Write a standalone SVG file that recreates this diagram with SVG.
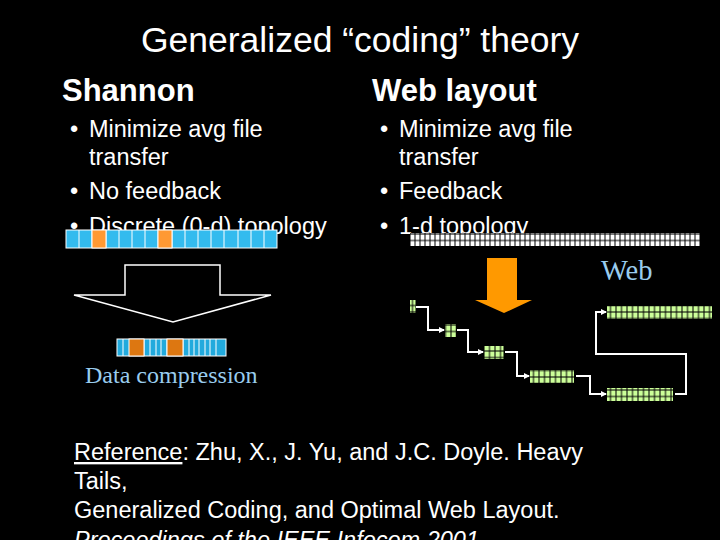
<svg xmlns="http://www.w3.org/2000/svg" width="720" height="540" viewBox="0 0 720 540">
<style>
text{font-family:"Liberation Sans",Arial,sans-serif;fill:#fff}
.b{font-size:23.5px}
.s{font-family:"Liberation Serif","Times New Roman",serif;fill:#99ccee}
.c{fill:#33bbee;stroke:#fff;stroke-width:1}
.o{fill:#ff9933;stroke:#fff;stroke-width:1}
.oc{fill:#dd7711;stroke:#fff;stroke-width:1}
.sc{fill:#22aadd;stroke:#fff;stroke-width:1}
.g{fill:#ccff99;stroke:#000;stroke-width:1}
.w{fill:#fff;stroke:#000;stroke-width:1}
.ln{fill:none;stroke:#fff;stroke-width:2}
</style>
<defs>
<marker id="ah" markerWidth="6" markerHeight="6" refX="5" refY="3" orient="auto" markerUnits="userSpaceOnUse"><path d="M0,0L6,3L0,6z" fill="#fff"/></marker>
<pattern id="gp" width="5.5" height="6.5" patternUnits="userSpaceOnUse"><rect width="5.5" height="6.5" class="g"/></pattern>
<pattern id="wp" width="5" height="6.5" patternUnits="userSpaceOnUse"><rect width="5" height="6.5" class="w"/></pattern>
</defs>
<rect width="720" height="540" fill="#000"/>
<text x="360" y="52" font-size="35.5" text-anchor="middle">Generalized “coding” theory</text>
<text x="62" y="101" font-size="31" font-weight="bold">Shannon</text>
<text x="372" y="101" font-size="31" font-weight="bold">Web layout</text>
<g class="b">
<text x="70" y="137">•</text><text x="89" y="137">Minimize avg file</text>
<text x="89" y="165">transfer</text>
<text x="70" y="199">•</text><text x="89" y="199">No feedback</text>
<text x="70" y="234">•</text><text x="89" y="234">Discrete (0-d) topology</text>
<text x="380" y="137">•</text><text x="399" y="137">Minimize avg file</text>
<text x="399" y="165">transfer</text>
<text x="380" y="199">•</text><text x="399" y="199">Feedback</text>
<text x="380" y="234">•</text><text x="399" y="234">1-d topology</text>
</g>
<g id="bigbar">
<rect class="c" x="66" y="230" width="211" height="18"/>
<path d="M79,230v18M92,230v18M106,230v18M119,230v18M132,230v18M145,230v18M158,230v18M172,230v18M185,230v18M198,230v18M211,230v18M224,230v18M238,230v18M251,230v18M264,230v18" stroke="#fff"/>
<rect class="o" x="92" y="230" width="14" height="18"/>
<rect class="o" x="158" y="230" width="14" height="18"/>
</g>
<g id="outlineArrow"><path d="M125,265H220V295H271L173,322L74,295H125Z" fill="none" stroke="#fff" stroke-width="1.5"/></g>
<g id="smallbar">
<rect class="sc" x="117" y="339" width="109" height="17"/>
<path d="M123,339v17M144,339v17M150,339v17M156,339v17M161,339v17M167,339v17M183,339v17M189,339v17M194,339v17M199,339v17M205,339v17M210,339v17M216,339v17" stroke="#fff"/>
<rect class="oc" x="129" y="339" width="15" height="17"/>
<rect class="oc" x="167" y="339" width="16" height="17"/>
</g>
<text class="s" x="85" y="383" font-size="24">Data compression</text>
<g id="webbar"><rect x="410" y="233" width="290" height="13" fill="url(#wp)"/></g>
<g id="orangeArrow"><path d="M487,258H517V300H532L504,313L475,300H487Z" fill="#ff9900"/></g>
<text class="s" x="601" y="280" font-size="28.5">Web</text>
<g id="b1"><rect x="410" y="300" width="5.5" height="13" fill="url(#gp)"/></g>
<g id="b2"><rect x="445" y="324" width="11" height="13" fill="url(#gp)"/></g>
<g id="b3"><rect x="484" y="346" width="19.5" height="13" fill="url(#gp)"/></g>
<g id="b4"><rect x="530" y="370" width="44" height="13" fill="url(#gp)"/></g>
<g id="b5"><rect x="607" y="388" width="66" height="13" fill="url(#gp)"/></g>
<g id="b6"><rect x="607" y="306" width="105" height="13" fill="url(#gp)"/></g>
<g id="connectors" class="ln">
<path class="ln" d="M416,307H428V330H444" marker-end="url(#ah)"/>
<path class="ln" d="M457,330H468V352H483" marker-end="url(#ah)"/>
<path class="ln" d="M505,352H517V376H529" marker-end="url(#ah)"/>
<path class="ln" d="M576,376H590V394H606" marker-end="url(#ah)"/>
<path class="ln" d="M675,394H686V354H596V312H606" marker-end="url(#ah)"/>
</g>
<g class="b">
<text x="74" y="460"><tspan text-decoration="underline">Reference</tspan>: Zhu, X., J. Yu, and J.C. Doyle. Heavy</text>
<text x="74" y="489">Tails,</text>
<text x="74" y="518">Generalized Coding, and Optimal Web Layout.</text>
<text x="74" y="548" font-style="italic">Proceedings of the IEEE Infocom 2001.</text>
</g>
</svg>
